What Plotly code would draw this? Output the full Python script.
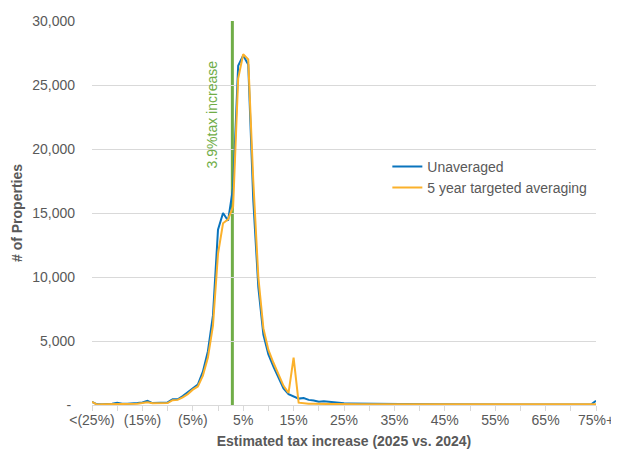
import plotly.graph_objects as go

# x positions: estimated tax increase, percent (1% bins; -25 = "<(25%)", 75 = "75%+")
pct = list(range(-25, 76))

unaveraged = [
    250, 50, 50, 60, 100, 180, 100, 100, 100, 150,
    200, 330, 150, 180, 180, 200, 450, 450, 700, 1000,
    1350, 1600, 2600, 4200, 7000, 13700, 15000, 14400, 17000, 26500,
    27300, 26600, 16000, 9200, 5500, 3950, 3000, 2100, 1300, 850,
    650, 500, 550, 400, 350, 250, 300, 250, 180, 150,
    130, 120, 110, 100, 100, 90, 90, 80, 80, 80,
    70, 70, 70, 60, 60, 60, 60, 50, 50, 50,
    50, 50, 50, 40, 40, 40, 40, 40, 40, 40,
    30, 30, 30, 30, 30, 30, 30, 30, 30, 30,
    30, 30, 30, 30, 30, 30, 30, 30, 30, 30,
    330,
]

averaged = [
    250, 30, 50, 50, 60, 80, 60, 60, 60, 100,
    150, 220, 130, 150, 150, 150, 380, 400, 600, 850,
    1200, 1450, 2300, 3700, 6200, 11800, 14200, 14500, 15500, 25500,
    27400, 27000, 17500, 10000, 6000, 4300, 3300, 2400, 1500, 950,
    3700, 180, 120, 100, 90, 80, 80, 70, 70, 60,
    60, 60, 50, 50, 50, 50, 50, 40, 40, 40,
    40, 40, 40, 40, 30, 30, 30, 30, 30, 30,
    30, 30, 30, 30, 30, 30, 30, 30, 30, 30,
    20, 20, 20, 20, 20, 20, 20, 20, 20, 20,
    20, 20, 20, 20, 20, 20, 20, 20, 20, 20,
    50,
]

x_tickvals = [-25, -15, -5, 5, 15, 25, 35, 45, 55, 65, 75]
x_ticktext = ["<(25%)", "(15%)", "(5%)", "5%", "15%", "25%", "35%", "45%", "55%", "65%", "75%+"]
y_tickvals = [0, 5000, 10000, 15000, 20000, 25000, 30000]
y_ticktext = ["-\u00a0", "5,000", "10,000", "15,000", "20,000", "25,000", "30,000"]

marker_x = 2.85
marker_label = "3.9%tax increase"

GRAY = "#595959"
GRID = "#D9D9D9"
FONT = "Arial, Liberation Sans, sans-serif"

fig = go.Figure()
fig.add_trace(go.Scatter(x=pct, y=unaveraged, mode="lines", name="Unaveraged",
                         line=dict(color="#0A74BD", width=2)))
fig.add_trace(go.Scatter(x=pct, y=averaged, mode="lines", name="5 year targeted averaging",
                         line=dict(color="#FBB12B", width=2)))

fig.add_shape(type="line", x0=marker_x, x1=marker_x, xref="x", yref="paper", y0=0, y1=1,
              line=dict(color="#70AD47", width=3), layer="between")
fig.add_annotation(x=-1.2, y=22700, xref="x", yref="y", text=marker_label, textangle=-90,
                   showarrow=False, font=dict(color="#70AD47", size=14, family=FONT))

# the page body adds an 8px margin, so the figure is 8px smaller than the window
fig.update_layout(
    width=611, height=447,
    margin=dict(l=84, r=23, t=13, b=50, autoexpand=False),
    paper_bgcolor="white", plot_bgcolor="white",
    font=dict(family=FONT, size=14, color=GRAY),
    showlegend=True,
    legend=dict(x=0.586, y=0.662, xanchor="left", yanchor="top",
                bgcolor="rgba(0,0,0,0)", font=dict(size=14, color=GRAY),
                tracegroupgap=0, itemwidth=30),
    xaxis=dict(
        range=[-25, 75], tickmode="array", tickvals=x_tickvals, ticktext=x_ticktext,
        showgrid=False, zeroline=False, showline=True, linecolor=GRID, linewidth=1,
        ticks="outside", ticklen=5, tickcolor=GRID, automargin=False, ticklabelstandoff=-3,
        minor=dict(ticks="outside", dtick=5, tick0=0, ticklen=5, tickcolor=GRID, showgrid=False),
        tickfont=dict(size=14, color=GRAY),
        title=dict(text="<b>Estimated tax increase (2025 vs. 2024)</b>", standoff=9,
                   font=dict(size=14, color=GRAY)),
    ),
    yaxis=dict(
        range=[0, 30000], tickmode="array", tickvals=y_tickvals, ticktext=y_ticktext,
        showgrid=True, gridcolor=GRID, gridwidth=1, zeroline=False, showline=False,
        ticks="", ticklabelstandoff=16, automargin=False,
        tickfont=dict(size=14, color=GRAY),
        title=dict(text="<b># of Properties</b>", standoff=6,
                   font=dict(size=14, color=GRAY)),
    ),
)

fig.write_html("out.html")
